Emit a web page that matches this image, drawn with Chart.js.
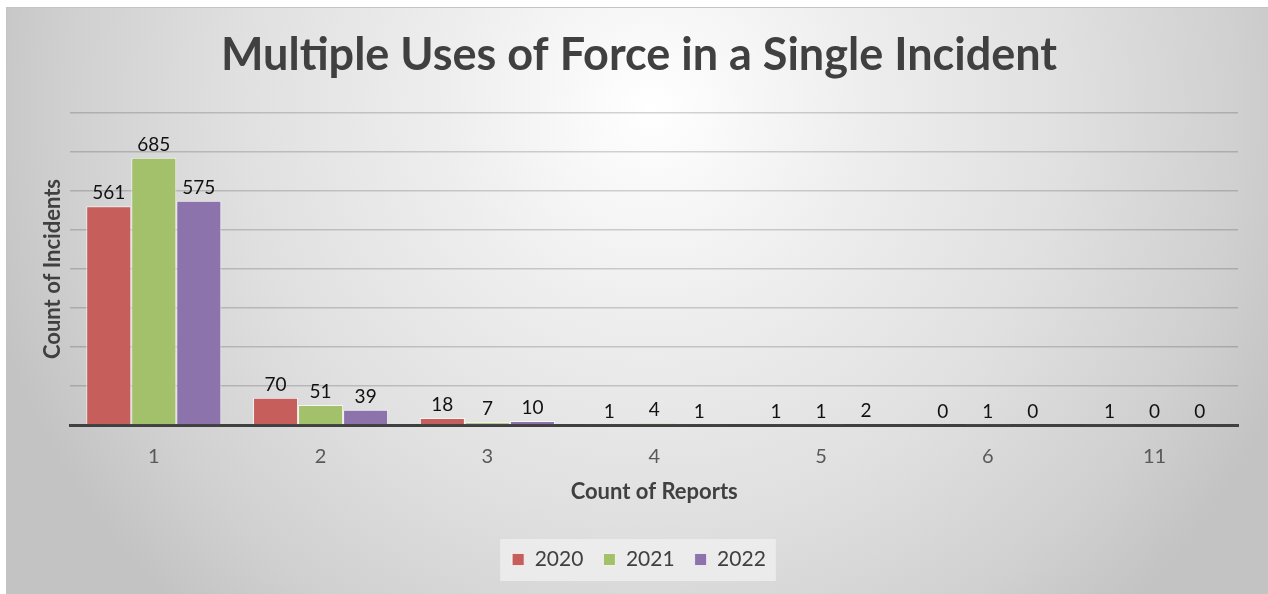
<!DOCTYPE html>
<html>
<head>
<meta charset="utf-8">
<title>Multiple Uses of Force in a Single Incident</title>
<script src="https://cdn.jsdelivr.net/npm/chart.js@4.4.1/dist/chart.umd.min.js"></script>
<style>
  html, body { margin: 0; padding: 0; background: #fff; overflow: hidden; }
  #frame {
    position: absolute; left: 6px; top: 7px; width: 1262px; height: 587px;
    border-top: 1px solid #c4c4c4; border-left: 1px solid #c4c4c4;
    background: radial-gradient(circle 690px at 645px 100px, #ffffff 0%, #eeeeee 30%, #e0e0e0 60%, #d0d0d0 85%, #c3c3c3 100%);
  }
  #wrap { position: absolute; left: 0; top: 0; width: 1268px; height: 594px; }
</style>
</head>
<body>
<div id="frame"></div>
<div id="wrap"><canvas id="chart"></canvas></div>
<script>
const categories = ['1', '2', '3', '4', '5', '6', '11'];
const years = ['2020', '2021', '2022'];
const counts2020 = [561, 70, 18, 1, 1, 0, 1];
const counts2021 = [685, 51, 7, 4, 1, 1, 0];
const counts2022 = [575, 39, 10, 1, 2, 0, 0];
const colors = ['#c65f5b', '#a3c06b', '#8d73ab'];

const FONT = 'Lato, "Open Sans", sans-serif';

// value printed above every bar, zeros included
const barValues = {
  id: 'barValues',
  afterDatasetsDraw(chart) {
    const ctx = chart.ctx;
    ctx.save();
    ctx.font = `19px ${FONT}`;
    ctx.fillStyle = '#111';
    ctx.textAlign = 'center';
    ctx.textBaseline = 'alphabetic';
    chart.data.datasets.forEach((ds, i) => {
      chart.getDatasetMeta(i).data.forEach((bar, j) => {
        ctx.fillText(String(ds.data[j]), bar.x, bar.y - 7);
      });
    });
    ctx.restore();
  }
};

// pale box behind the legend
const legendBox = {
  id: 'legendBox',
  beforeDraw(chart) {
    const lg = chart.legend;
    if (!lg || !lg.legendHitBoxes || !lg.legendHitBoxes.length) return;
    const boxes = lg.legendHitBoxes;
    const x0 = boxes[0].left - 12;
    const last = boxes[boxes.length - 1];
    const x1 = last.left + last.width + 10;
    const y0 = boxes[0].top - 10;
    const ctx = chart.ctx;
    ctx.save();
    ctx.fillStyle = 'rgba(240,240,240,0.75)';
    ctx.fillRect(x0, y0, x1 - x0, 42);
    ctx.restore();
  }
};

new Chart(document.getElementById('chart'), {
  type: 'bar',
  data: {
    labels: categories,
    datasets: [counts2020, counts2021, counts2022].map((d, i) => ({
      label: years[i],
      data: d,
      backgroundColor: colors[i],
      borderColor: 'rgba(255,255,255,0.7)',
      borderWidth: 1,
      categoryPercentage: 0.81,
      barPercentage: 1.0,
    })),
  },
  options: {
    animation: false, responsive: true, maintainAspectRatio: false,
    layout: { padding: { left: 40, right: 30, top: 0, bottom: 14 } },
    plugins: {
      title: {
        display: true,
        text: 'Multiple Uses of Force in a Single Incident',
        color: '#404040',
        font: { family: FONT, size: 45, weight: 'bold' },
        padding: { top: 28, bottom: 31 },
      },
      legend: {
        position: 'bottom',
        labels: {
          color: '#404040',
          font: { family: FONT, size: 21 },
          boxWidth: 12, boxHeight: 12,
          padding: 20,
        },
      },
      tooltip: { enabled: false },
    },
    scales: {
      x: {
        afterFit(scale) { scale.height = 104; },
        grid: { display: false, drawTicks: false },
        border: { display: true, color: '#404040', width: 3 },
        ticks: { color: '#595959', font: { family: FONT, size: 20 }, padding: 20 },
        title: { display: true, text: 'Count of Reports', color: '#404040',
                 font: { family: FONT, size: 22, weight: 'bold' }, padding: { top: 0, bottom: 24 } },
      },
      y: {
        min: 0, max: 800,
        ticks: { display: false, stepSize: 100 },
        grid: { color: 'rgba(0,0,0,0.17)', lineWidth: 1.5, drawTicks: false },
        border: { display: false },
        title: { display: true, text: 'Count of Incidents', color: '#404040',
                 font: { family: FONT, size: 22, weight: 'bold' }, padding: { top: 0, bottom: 4 } },
      },
    },
  },
  plugins: [legendBox, barValues],
});
</script>
</body>
</html>
